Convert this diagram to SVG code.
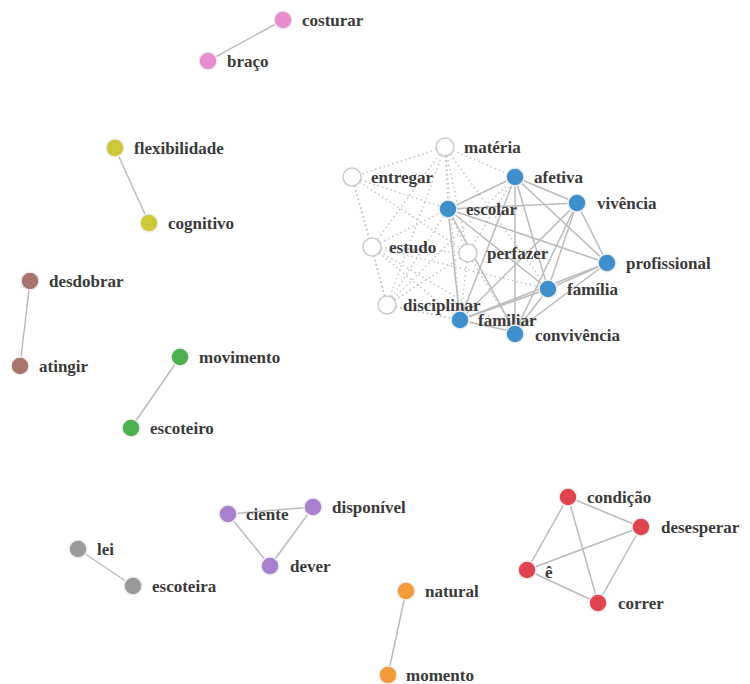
<svg xmlns="http://www.w3.org/2000/svg" width="750" height="684" viewBox="0 0 750 684">
<style>
.l{stroke:#bbb;stroke-width:1.5;fill:none}
.d{stroke:#c4c4c4;stroke-width:1.5;stroke-dasharray:1.5,3;fill:none}
.n{stroke:#eee;stroke-width:1.5}
.w{fill:#fff;stroke:#ccc;stroke-width:1.5}
.t text{font-size:17px;font-weight:bold;fill:#3a3a3a;dominant-baseline:central}
</style>
<rect width="750" height="684" fill="#fff"/>
<g id="connectors">
<line class="l" x1="283" y1="20" x2="208" y2="61"/>
<line class="l" x1="115" y1="148" x2="149" y2="223"/>
<line class="l" x1="30" y1="281" x2="20" y2="366"/>
<line class="l" x1="180" y1="357" x2="131" y2="428"/>
<line class="l" x1="78" y1="549" x2="133" y2="586"/>
<line class="l" x1="406" y1="591" x2="388" y2="675"/>
<line class="l" x1="228" y1="514" x2="313" y2="507"/>
<line class="l" x1="228" y1="514" x2="270" y2="566"/>
<line class="l" x1="313" y1="507" x2="270" y2="566"/>
<line class="l" x1="568" y1="497" x2="641" y2="527"/>
<line class="l" x1="568" y1="497" x2="527" y2="570"/>
<line class="l" x1="568" y1="497" x2="598" y2="603"/>
<line class="l" x1="641" y1="527" x2="527" y2="570"/>
<line class="l" x1="641" y1="527" x2="598" y2="603"/>
<line class="l" x1="527" y1="570" x2="598" y2="603"/>
<line class="d" x1="445" y1="147" x2="352" y2="177"/>
<line class="d" x1="445" y1="147" x2="515" y2="177"/>
<line class="d" x1="445" y1="147" x2="448" y2="209"/>
<line class="d" x1="445" y1="147" x2="372" y2="247"/>
<line class="d" x1="445" y1="147" x2="468" y2="253"/>
<line class="d" x1="445" y1="147" x2="387" y2="305"/>
<line class="d" x1="445" y1="147" x2="460" y2="320"/>
<line class="d" x1="445" y1="147" x2="548" y2="289"/>
<line class="d" x1="352" y1="177" x2="372" y2="247"/>
<line class="d" x1="352" y1="177" x2="448" y2="209"/>
<line class="d" x1="352" y1="177" x2="468" y2="253"/>
<line class="d" x1="352" y1="177" x2="387" y2="305"/>
<line class="d" x1="372" y1="247" x2="387" y2="305"/>
<line class="d" x1="372" y1="247" x2="448" y2="209"/>
<line class="d" x1="372" y1="247" x2="468" y2="253"/>
<line class="d" x1="372" y1="247" x2="460" y2="320"/>
<line class="d" x1="372" y1="247" x2="515" y2="332"/>
<line class="d" x1="372" y1="247" x2="548" y2="289"/>
<line class="d" x1="387" y1="305" x2="448" y2="209"/>
<line class="d" x1="387" y1="305" x2="468" y2="253"/>
<line class="d" x1="387" y1="305" x2="460" y2="320"/>
<line class="d" x1="387" y1="305" x2="515" y2="332"/>
<line class="d" x1="387" y1="305" x2="515" y2="177"/>
<line class="d" x1="468" y1="253" x2="448" y2="209"/>
<line class="d" x1="468" y1="253" x2="460" y2="320"/>
<line class="d" x1="468" y1="253" x2="515" y2="332"/>
<line class="d" x1="468" y1="253" x2="515" y2="177"/>
<line class="l" x1="448" y1="209" x2="515" y2="177"/>
<line class="l" x1="448" y1="209" x2="577" y2="203"/>
<line class="l" x1="448" y1="209" x2="607" y2="263"/>
<line class="l" x1="448" y1="209" x2="548" y2="289"/>
<line class="l" x1="448" y1="209" x2="460" y2="320"/>
<line class="l" x1="448" y1="209" x2="515" y2="332"/>
<line class="l" x1="515" y1="177" x2="577" y2="203"/>
<line class="l" x1="515" y1="177" x2="607" y2="263"/>
<line class="l" x1="515" y1="177" x2="548" y2="289"/>
<line class="l" x1="515" y1="177" x2="460" y2="320"/>
<line class="l" x1="515" y1="177" x2="515" y2="332"/>
<line class="l" x1="577" y1="203" x2="607" y2="263"/>
<line class="l" x1="577" y1="203" x2="548" y2="289"/>
<line class="l" x1="577" y1="203" x2="460" y2="320"/>
<line class="l" x1="577" y1="203" x2="515" y2="332"/>
<line class="l" x1="607" y1="263" x2="548" y2="289"/>
<line class="l" x1="607" y1="263" x2="460" y2="320"/>
<line class="l" x1="607" y1="263" x2="515" y2="332"/>
<line class="l" x1="548" y1="289" x2="460" y2="320"/>
<line class="l" x1="548" y1="289" x2="515" y2="332"/>
<line class="l" x1="460" y1="320" x2="515" y2="332"/>
</g>
<g class="t" font-family="Liberation Serif, DejaVu Serif, serif">
<g id="n-costurar"><circle class="n" cx="283" cy="20" r="9" fill="#e88ccf"/><text x="302" y="20">costurar</text></g>
<g id="n-braco"><circle class="n" cx="208" cy="61" r="9" fill="#e88ccf"/><text x="227" y="61">braço</text></g>
<g id="n-flexibilidade"><circle class="n" cx="115" cy="148" r="9" fill="#cdc83a"/><text x="134" y="148">flexibilidade</text></g>
<g id="n-cognitivo"><circle class="n" cx="149" cy="223" r="9" fill="#cdc83a"/><text x="168" y="223">cognitivo</text></g>
<g id="n-desdobrar"><circle class="n" cx="30" cy="281" r="9" fill="#a8746c"/><text x="49" y="281">desdobrar</text></g>
<g id="n-atingir"><circle class="n" cx="20" cy="366" r="9" fill="#a8746c"/><text x="39" y="366">atingir</text></g>
<g id="n-movimento"><circle class="n" cx="180" cy="357" r="9" fill="#4cb04c"/><text x="199" y="357">movimento</text></g>
<g id="n-escoteiro"><circle class="n" cx="131" cy="428" r="9" fill="#4cb04c"/><text x="150" y="428">escoteiro</text></g>
<g id="n-materia"><circle class="w" cx="445" cy="147" r="9"/><text x="464" y="147">matéria</text></g>
<g id="n-entregar"><circle class="w" cx="352" cy="177" r="9"/><text x="371" y="177">entregar</text></g>
<g id="n-estudo"><circle class="w" cx="372" cy="247" r="9"/><text x="389" y="247">estudo</text></g>
<g id="n-perfazer"><circle class="w" cx="468" cy="253" r="9"/><text x="487" y="253">perfazer</text></g>
<g id="n-disciplinar"><circle class="w" cx="387" cy="305" r="9"/><text x="403" y="305">disciplinar</text></g>
<g id="n-afetiva"><circle class="n" cx="515" cy="177" r="9" fill="#3f8fcd"/><text x="534" y="177">afetiva</text></g>
<g id="n-escolar"><circle class="n" cx="448" cy="209" r="9" fill="#3f8fcd"/><text x="466" y="209">escolar</text></g>
<g id="n-vivencia"><circle class="n" cx="577" cy="203" r="9" fill="#3f8fcd"/><text x="597" y="203">vivência</text></g>
<g id="n-profissional"><circle class="n" cx="607" cy="263" r="9" fill="#3f8fcd"/><text x="626" y="263">profissional</text></g>
<g id="n-familia"><circle class="n" cx="548" cy="289" r="9" fill="#3f8fcd"/><text x="567" y="289">família</text></g>
<g id="n-familiar"><circle class="n" cx="460" cy="320" r="9" fill="#3f8fcd"/><text x="478" y="320">familiar</text></g>
<g id="n-convivencia"><circle class="n" cx="515" cy="334" r="9" fill="#3f8fcd"/><text x="535" y="335">convivência</text></g>
<g id="n-ciente"><circle class="n" cx="228" cy="514" r="9" fill="#a97fcf"/><text x="246" y="514">ciente</text></g>
<g id="n-disponivel"><circle class="n" cx="313" cy="507" r="9" fill="#a97fcf"/><text x="332" y="507">disponível</text></g>
<g id="n-dever"><circle class="n" cx="270" cy="566" r="9" fill="#a97fcf"/><text x="290" y="566">dever</text></g>
<g id="n-lei"><circle class="n" cx="78" cy="549" r="9" fill="#9a9a9a"/><text x="97" y="549">lei</text></g>
<g id="n-escoteira"><circle class="n" cx="133" cy="586" r="9" fill="#9a9a9a"/><text x="152" y="586">escoteira</text></g>
<g id="n-natural"><circle class="n" cx="406" cy="591" r="9" fill="#f59a3a"/><text x="425" y="591">natural</text></g>
<g id="n-momento"><circle class="n" cx="388" cy="675" r="9" fill="#f59a3a"/><text x="406" y="675">momento</text></g>
<g id="n-condicao"><circle class="n" cx="568" cy="497" r="9" fill="#e0444e"/><text x="587" y="497">condição</text></g>
<g id="n-desesperar"><circle class="n" cx="641" cy="527" r="9" fill="#e0444e"/><text x="661" y="527">desesperar</text></g>
<g id="n-e"><circle class="n" cx="527" cy="570" r="9" fill="#e0444e"/><text x="545" y="572">ê</text></g>
<g id="n-correr"><circle class="n" cx="598" cy="603" r="9" fill="#e0444e"/><text x="618" y="603">correr</text></g>
</g>
</svg>
